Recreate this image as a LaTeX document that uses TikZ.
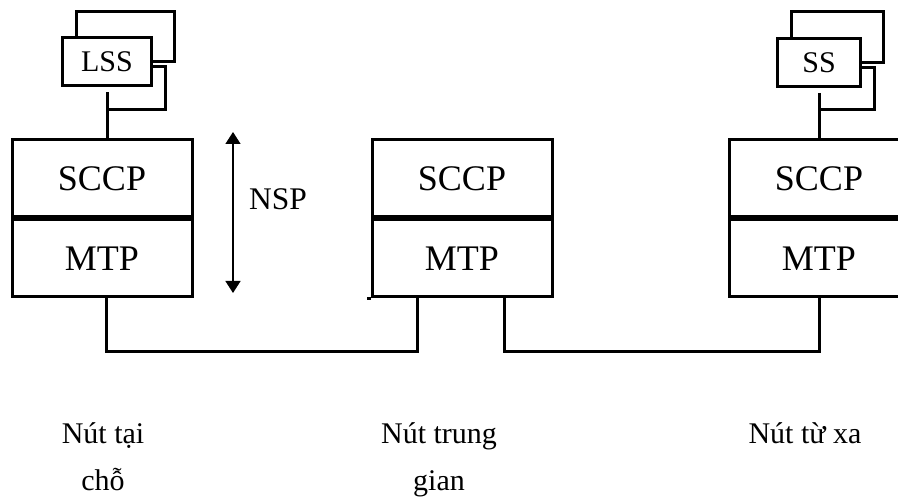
\documentclass[tikz,border=0pt]{standalone}
\usepackage{fontspec}
\setmainfont{Liberation Serif}
\usetikzlibrary{arrows.meta,positioning}
\newcommand{\backframe}[1]{%
  \draw ([xshift=15pt]#1.north west) -- ++(0,-25) -| ([xshift=21pt]#1.east) -- (#1.east);
  \draw ([yshift=-5pt]#1.east) -- ++(12,0) |- ([yshift=-22pt]#1.south);}

\begin{document}
\begin{tikzpicture}[x=1pt, y=-1pt, line width=3pt, >={Triangle[width=15pt,length=12pt]},
 every node/.style={inner sep=0pt, font=\fontsize{36}{40}\selectfont},
 layer/.style={draw, minimum width=180pt, minimum height=77pt},
 svc/.style={draw, fill=white, minimum height=48pt, font=\fontsize{30}{32}\selectfont},
 caption/.style={anchor=north, align=center, font=\fontsize{30}{47}\selectfont}]
\useasboundingbox (0,0) rectangle (898,497);
% protocol stacks
\node[layer] (sccpA) at (102,178.5) {SCCP};
\node[layer, below=0pt of sccpA] (mtpA) {MTP};
\node[layer] (sccpB) at (462,178.5) {SCCP};
\node[layer, below=0pt of sccpB] (mtpB) {MTP};
\node[layer] (sccpC) at (819,178.5) {SCCP};
\node[layer, below=0pt of sccpC] (mtpC) {MTP};
% subsystem users
\node[svc, minimum width=89pt] (lss) at (107,62) {LSS};
\backframe{lss}
\draw ([yshift=-5pt]lss.south) -- (sccpA.north -| lss.south);
\node[svc, minimum width=83pt] (ss) at (819,62.5) {SS};
\backframe{ss}
\draw ([yshift=-5pt]ss.south) -- (sccpC.north -| ss.south);
% links
\draw ([xshift=4pt]mtpA.south) -- ++(0,53) -| ([xshift=-45pt]mtpB.south);
\draw ([xshift=42pt]mtpB.south) -- ++(0,53) -| (mtpC.south);
\draw (mtpB.south west) -- ++(-4,0);
% NSP span
\coordinate (nspTop) at (233,132);
\coordinate (nspBot) at (233,293);
\draw[<->, line width=1.4pt] (nspTop) -- (nspBot);
\node[font=\fontsize{31.5}{36}\selectfont] (nsp) at (278,199) {NSP};
% captions
\node[caption] (capA) at (103,421) {Nút tại\\chỗ};
\node[caption] (capB) at (439,421) {Nút trung\\gian};
\node[caption] (capC) at (805,421) {Nút từ xa};
\end{tikzpicture}
\end{document}
